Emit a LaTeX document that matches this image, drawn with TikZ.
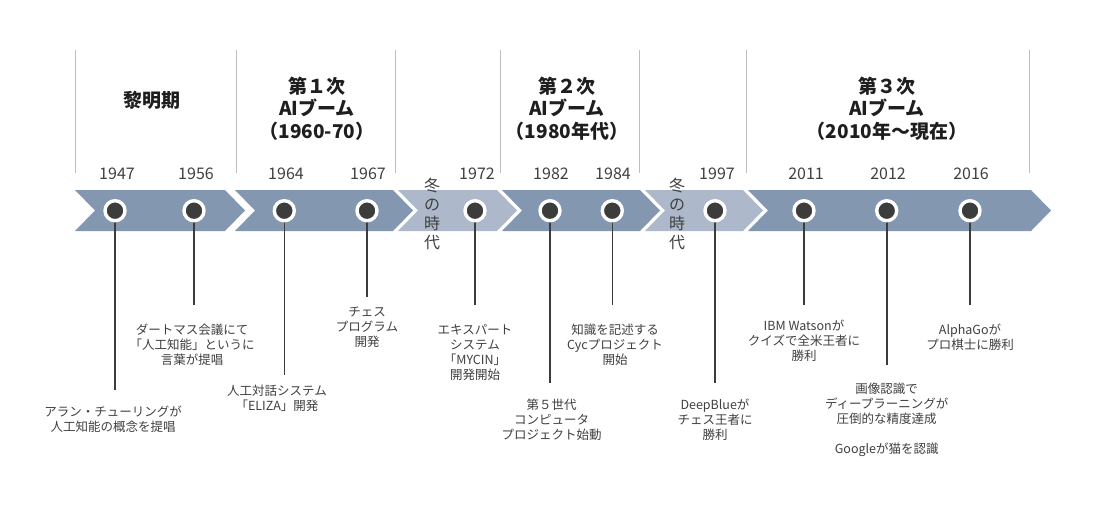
\documentclass[tikz,border=0pt]{standalone}
\usepackage{fontspec}
\setmainfont{Noto Sans CJK JP}
\definecolor{bandd}{HTML}{8497B0}
\definecolor{bandl}{HTML}{ADB9CA}
\definecolor{dotc}{HTML}{3C3C3C}
\definecolor{txt}{HTML}{404040}
\definecolor{sep}{HTML}{BFBFBF}
\definecolor{headc}{HTML}{1E1E1E}
\tikzset{
  yr/.style={font=\fontsize{16}{18}\selectfont, text=txt, inner sep=0pt},
  desc/.style={font=\fontsize{12.5}{15}\selectfont, text=txt, align=center, inner sep=0pt},
  head/.style={font=\bfseries\fontsize{19}{22.5}\selectfont, text=headc, align=center, inner sep=0pt},
  winter/.style={font=\fontsize{16}{19}\selectfont, text=txt, align=center, inner sep=0pt},
  dotnode/.style={circle, fill=dotc, draw=white, line width=3.4pt, minimum size=20pt, inner sep=0pt},
  conn/.style={draw=dotc, line width=1.6pt},
  sepline/.style={draw=sep, line width=1pt},
}
\newcommand\mychev[3]{%
  \fill[#3] (#1,190) -- (#2,190) -- ({#2+20},210.5) -- (#2,231) -- (#1,231) -- ({#1+20},210.5) -- cycle;}
\begin{document}
\begin{tikzpicture}[x=1pt,y=-1pt]
\useasboundingbox (0,0) rectangle (1100,504);
\fill[white] (0,0) rectangle (1100,504);

% header separators
\foreach \sx in {75,236,395,500.7,639.3,746,1029}
  \draw[sepline] (\sx,50) -- (\sx,173);

% headers
\node[head] (h0) at (152,100) {黎明期};
\node[head] (h1) at (317,108.5) {第１次\\AIブーム\\（1960-70）};
\node[head] (h2) at (567,108.5) {第２次\\AIブーム\\（1980年代）};
\node[head] (h3) at (887,108.5) {第３次\\AIブーム\\（2010年～現在）};

% years
\node[yr] (y1) at (117,174) {1947};
\node[yr] (y2) at (196,174) {1956};
\node[yr] (y3) at (286,174) {1964};
\node[yr] (y4) at (368,174) {1967};
\node[yr] (y5) at (477,174) {1972};
\node[yr] (y6) at (551,174) {1982};
\node[yr] (y7) at (613,174) {1984};
\node[yr] (y8) at (717,174) {1997};
\node[yr] (y9) at (806,174) {2011};
\node[yr] (y10) at (888,174) {2012};
\node[yr] (y11) at (971,174) {2016};

% chevron band
\mychev{75}{225}{bandd}
\mychev{235}{393}{bandd}
\mychev{398}{497}{bandl}
\mychev{502}{640}{bandd}
\mychev{645}{743}{bandl}
\mychev{748}{1031}{bandd}

% winter labels
\node[winter] (w1) at (432,213.5) {冬\\の\\時\\代};
\node[winter] (w2) at (677,213.5) {冬\\の\\時\\代};

% dot centres and connector ends
\coordinate (p1) at (115,210.7);   \coordinate (e1) at (115,390);
\coordinate (p2) at (194,210.7);   \coordinate (e2) at (194,305);
\coordinate (p3) at (284.3,210.7); \coordinate (e3) at (284.3,375);
\coordinate (p4) at (367,210.7);   \coordinate (e4) at (367,297);
\coordinate (p5) at (475,210.7);   \coordinate (e5) at (475,305);
\coordinate (p6) at (550,210.7);   \coordinate (e6) at (550,383);
\coordinate (p7) at (612.3,210.7); \coordinate (e7) at (612.3,305);
\coordinate (p8) at (715,210.7);   \coordinate (e8) at (715,383);
\coordinate (p9) at (804,210.7);   \coordinate (e9) at (804,305);
\coordinate (p10) at (886.7,210.7);\coordinate (e10) at (886.7,365);
\coordinate (p11) at (970,210.7);  \coordinate (e11) at (970,305);

\foreach \i in {1,...,11}
  \draw[conn] (p\i) -- (e\i);
\foreach \i in {1,...,11}
  \node[dotnode] (d\i) at (p\i) {};

% descriptions
\node[desc] (t1) at (113,419.2) {アラン・チューリングが\\人工知能の概念を提唱};
\node[desc] (t2) at (192,345) {ダートマス会議にて\\「人工知能」というに\\言葉が提唱};
\node[desc] (t3) at (277,398.3) {人工対話システム\\「ELIZA」開発};
\node[desc] (t4) at (367,327.2) {チェス\\プログラム\\開発};
\node[desc] (t5) at (475,352.5) {エキスパート\\システム\\｢MYCIN｣\\開発開始};
\node[desc] (t6) at (551.7,419.5) {第５世代\\コンピュータ\\プロジェクト始動};
\node[desc] (t7) at (615,345) {知識を記述する\\Cycプロジェクト\\開始};
\node[desc] (t8) at (715,419.5) {DeepBlueが\\チェス王者に\\勝利};
\node[desc] (t9) at (804,340.5) {IBM Watsonが\\クイズで全米王者に\\勝利};
\node[desc] (t10) at (886.7,419.5) {画像認識で\\ディープラーニングが\\圧倒的な精度達成\\[15pt]Googleが猫を認識};
\node[desc] (t11) at (970,337) {AlphaGoが\\プロ棋士に勝利};
\end{tikzpicture}
\end{document}
